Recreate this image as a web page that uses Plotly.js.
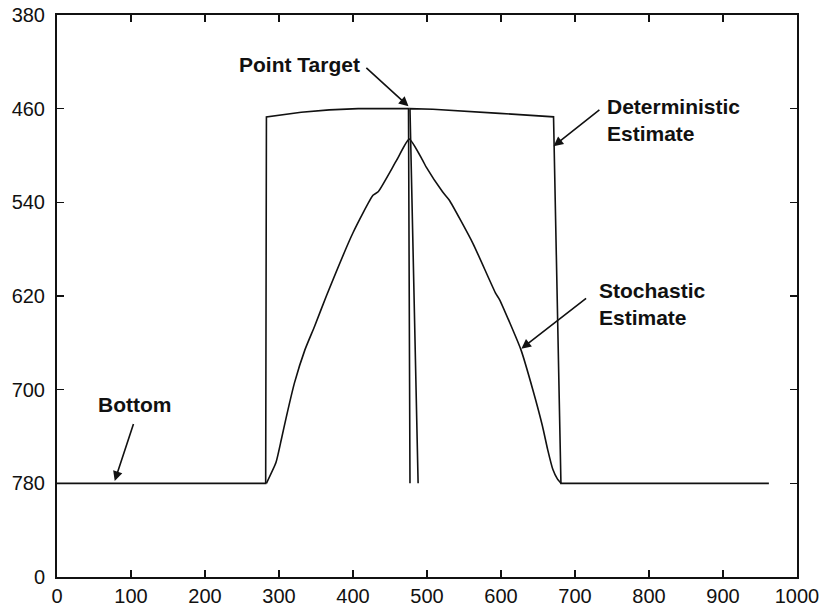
<!DOCTYPE html>
<html>
<head>
<meta charset="utf-8">
<script src="https://cdn.plot.ly/plotly-3.0.1.min.js"></script>
<style>html,body{margin:0;padding:0;background:#fff}#chart{width:821px;height:607px}</style>
</head>
<body>
<div id="chart"></div>
<script>
// Deterministic estimate (includes bottom and point-target notch); null = pen up
const detX = [0, 282, 283, 330, 368, 407, 475, 477, null, 488, 477, 508, 553, 598, 671, 681, 962];
const detY = [780, 780, 467, 463, 461, 460, 460, 780, null, 780, 460, 460.5, 462, 464, 467, 780, 780];

// Stochastic estimate
const stoX = [283, 296, 303, 310, 321, 335, 348, 364, 400, 427, 434, 459, 476, 494, 499, 521, 530, 562, 593, 598, 627, 643, 656, 663, 670, 676, 681];
const stoY = [780, 762, 743, 723, 694, 666, 646, 620, 566, 534, 531, 504, 486, 504, 510, 531, 538, 575, 618, 623, 666, 700, 731, 751, 768, 776, 780];

// Axis ticks
const xTicks = [0, 100, 200, 300, 400, 500, 600, 700, 800, 900, 1000];
const yTicks = [380, 460, 540, 620, 700, 780, 860];
const yTickText = ["380", "460", "540", "620", "700", "780", "0"];

const lineStyle = {color: '#111', width: 1.6};
const traces = [
  {x: detX, y: detY, mode: 'lines', line: lineStyle, connectgaps: false, name: 'Deterministic', hoverinfo: 'skip'},
  {x: stoX, y: stoY, mode: 'lines', line: Object.assign({shape: 'spline', smoothing: 0.5}, lineStyle), name: 'Stochastic', hoverinfo: 'skip'}
];

const labFont = {family: 'Liberation Sans, Arial, sans-serif', size: 21, color: '#111', weight: 'bold'};
function txt(x, y, t, align, xanchor) {
  return {x: x, y: y, xref: 'x', yref: 'y', text: t, showarrow: false, font: labFont, align: align || 'center', xanchor: xanchor || 'center', yanchor: 'middle'};
}
function arr(x, y, ax, ay) {
  return {x: x, y: y, ax: ax, ay: ay, xref: 'x', yref: 'y', axref: 'x', ayref: 'y', text: '', showarrow: true, arrowhead: 2, arrowsize: 1.2, arrowwidth: 1.6, arrowcolor: '#111', standoff: 0, startstandoff: 0};
}

const layout = {
  width: 821, height: 607,
  margin: {l: 57, r: 24, t: 15, b: 30},
  paper_bgcolor: '#fff', plot_bgcolor: '#fff',
  showlegend: false,
  font: {family: 'Liberation Sans, Arial, sans-serif', size: 20, color: '#111'},
  xaxis: {range: [0, 1000], tickvals: xTicks, ticks: 'inside', ticklen: 7, tickwidth: 1.5, tickcolor: '#111',
          showline: true, linecolor: '#111', linewidth: 2, mirror: 'ticks', showgrid: false, zeroline: false,
          tickfont: {size: 20}, ticklabelstandoff: 0},
  yaxis: {range: [860, 380], tickvals: yTicks, ticktext: yTickText, ticks: 'inside', ticklen: 7, tickwidth: 1.5, tickcolor: '#111',
          showline: true, linecolor: '#111', linewidth: 2, mirror: 'ticks', showgrid: false, zeroline: false,
          tickfont: {size: 20}, ticklabelstandoff: 6},
  annotations: [
    txt(328, 422, 'Point Target'),
    arr(475, 458, 416, 424),
    txt(741, 470, 'Deterministic<br>Estimate', 'left', 'left'),
    arr(671, 492, 735, 460),
    txt(730, 627, 'Stochastic<br>Estimate', 'left', 'left'),
    arr(627.5, 665, 717, 621),
    txt(105, 713, 'Bottom'),
    arr(78, 778, 104, 728)
  ]
};
Plotly.newPlot('chart', traces, layout, {displayModeBar: false, staticPlot: true});
</script>
</body>
</html>
